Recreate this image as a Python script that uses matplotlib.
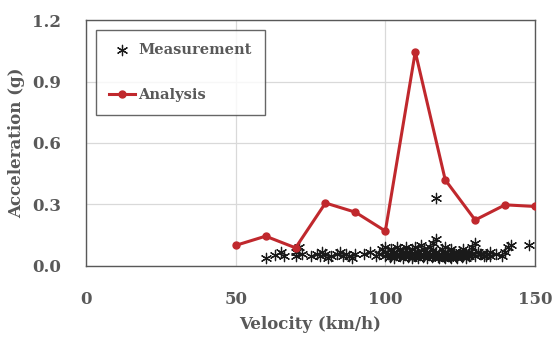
import matplotlib.pyplot as plt

# --------------------

# Analysis (line)
ana_v = [50, 60, 70, 80, 90, 100, 110, 120, 130, 140, 150]
ana_g = [0.10, 0.145, 0.088, 0.307, 0.262, 0.17, 1.045, 0.42, 0.224, 0.298, 0.29]

# Measurement (scatter)
meas_v = [60, 63, 65, 66, 70, 70, 71, 72, 75, 77, 78, 79, 80, 81, 82, 84, 85, 86,
          87, 88, 89, 90, 93, 95, 97, 98, 99, 100, 100, 100, 101, 102, 102, 103,
          103, 104, 104, 105, 105, 106, 106, 107, 107, 108, 108, 109, 109, 110,
          110, 110, 111, 111, 112, 112, 113, 113, 114, 114, 115, 115, 116, 116,
          117, 117, 117, 118, 118, 119, 119, 120, 120, 120, 121, 121, 122, 122,
          123, 123, 124, 124, 125, 125, 126, 126, 127, 127, 128, 128, 129, 129,
          130, 130, 131, 132, 133, 134, 135, 135, 137, 139, 140, 141, 142, 148,
          101.5, 102.5, 104.5, 105.5, 106.5, 108.5, 109.5, 111.5, 112.5, 113.5,
          114.5, 116.5, 118.5, 119.5, 121.5, 122.5, 123.5, 124.5, 125.5, 126.5,
          127.5, 128.5, 103.5, 107.5, 110.5, 115.5, 120.5, 117.5, 131.5, 133.5]
meas_g = [0.04, 0.055, 0.07, 0.05, 0.05, 0.07, 0.09, 0.06, 0.05, 0.06, 0.05, 0.07,
          0.06, 0.04, 0.05, 0.06, 0.07, 0.05, 0.06, 0.05, 0.04, 0.06, 0.06, 0.07,
          0.05, 0.06, 0.08, 0.05, 0.07, 0.09, 0.06, 0.08, 0.05, 0.07, 0.04, 0.06,
          0.09, 0.05, 0.08, 0.07, 0.04, 0.06, 0.09, 0.05, 0.07, 0.08, 0.04, 0.06,
          0.05, 0.09, 0.07, 0.04, 0.06, 0.10, 0.05, 0.08, 0.07, 0.04, 0.09, 0.06,
          0.11, 0.05, 0.13, 0.07, 0.33, 0.06, 0.04, 0.08, 0.05, 0.07, 0.04, 0.09,
          0.06, 0.05, 0.08, 0.04, 0.06, 0.07, 0.05, 0.04, 0.07, 0.06, 0.05, 0.08,
          0.06, 0.04, 0.07, 0.05, 0.09, 0.06, 0.11, 0.05, 0.07, 0.06, 0.05, 0.06,
          0.07, 0.05, 0.06, 0.05, 0.07, 0.09, 0.10, 0.10,
          0.045, 0.065, 0.055, 0.065, 0.055, 0.06, 0.065, 0.055, 0.045, 0.065,
          0.055, 0.065, 0.055, 0.045, 0.045, 0.065, 0.045, 0.06, 0.045, 0.065,
          0.055, 0.06, 0.055, 0.045, 0.07, 0.045, 0.055, 0.045, 0.06, 0.05]

x_ticks = [0, 50, 100, 150]
y_ticks = [0.0, 0.3, 0.6, 0.9, 1.2]

# --------------------

text_col = "#595959"
plt.rcParams["font.family"] = ["DejaVu Serif"]
plt.rcParams["font.weight"] = "bold"

fig = plt.figure(figsize = (5.55, 3.4), dpi = 100)
ax = fig.add_axes([0.155, 0.218, 0.809, 0.723])

ax.scatter(meas_v, meas_g, marker = (6, 2, 0), s = 55, color = "#1a1a1a",
           linewidths = 0.9, label = "Measurement", zorder = 3)
ax.plot(ana_v, ana_g, color = "#c0282d", linewidth = 2.2, marker = "o",
        markersize = 5, label = "Analysis", zorder = 4)

ax.set_xlim(0, 150)
ax.set_ylim(0, 1.2)
ax.set_xticks(x_ticks)
ax.set_yticks(y_ticks)
ax.set_yticklabels([f"{v:.1f}" for v in y_ticks])
ax.tick_params(length = 0, labelsize = 12, colors = text_col, pad = 18)
for lab in ax.get_xticklabels() + ax.get_yticklabels():
    lab.set_fontweight("bold")

ax.grid(color = "#d9d9d9", linewidth = 0.9)
ax.set_axisbelow(True)
for sp in ax.spines.values():
    sp.set_color("#595959")
    sp.set_linewidth(1.0)

ax.set_xlabel("Velocity (km/h)", fontsize = 12, fontweight = "bold", color = text_col, labelpad = 6)
ax.set_ylabel("Acceleration (g)", fontsize = 12, fontweight = "bold", color = text_col, labelpad = 5)

leg = ax.legend(loc = "upper left", bbox_to_anchor = (0.022, 0.96), borderaxespad = 0,
                fontsize = 10.5, frameon = True, fancybox = False, edgecolor = "#404040",
                borderpad = 0.9, labelspacing = 2.1, handlelength = 1.8,
                handletextpad = 0.2)
leg.get_frame().set_linewidth(1.0)
for t in leg.get_texts():
    t.set_color(text_col)
    t.set_fontweight("bold")

plt.savefig("out.png", dpi = 100)
